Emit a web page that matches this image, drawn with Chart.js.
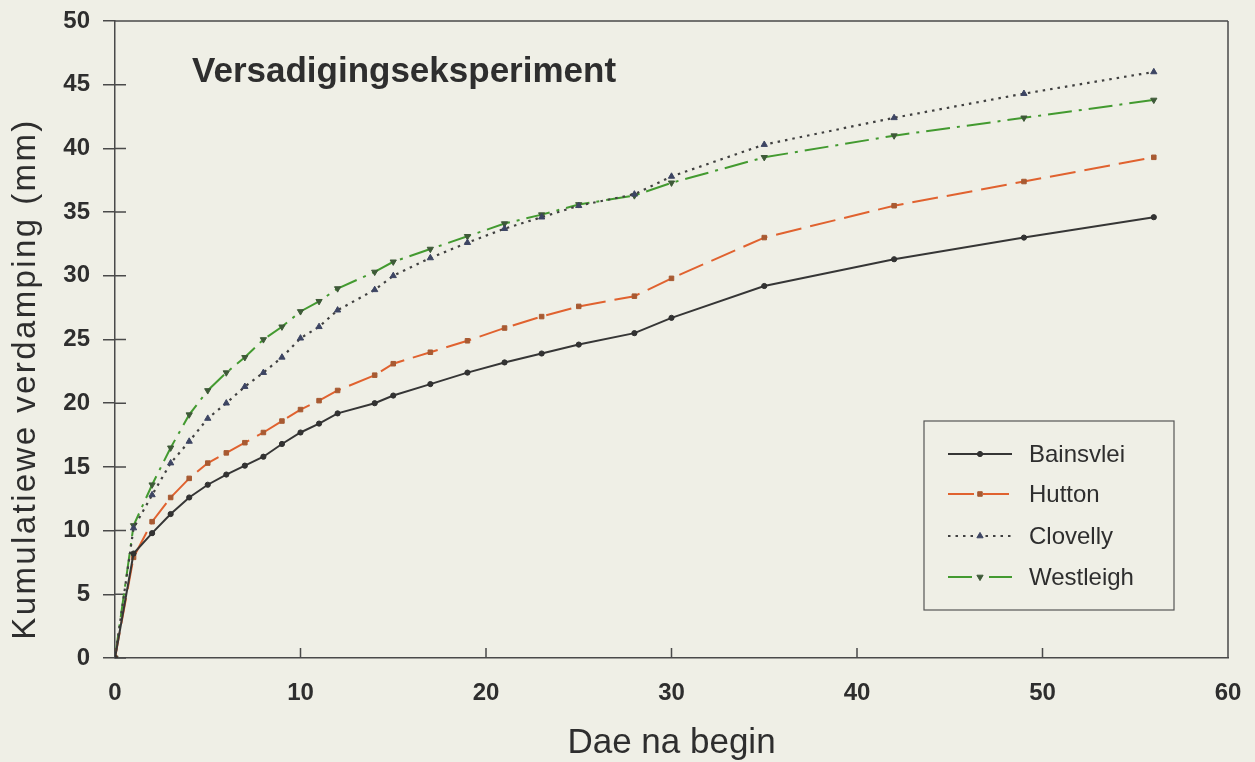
<!DOCTYPE html>
<html>
<head>
<meta charset="utf-8">
<title>Versadigingseksperiment</title>
<script src="https://cdn.jsdelivr.net/npm/chart.js@4.4.1/dist/chart.umd.min.js"></script>
<style>
  html, body { margin: 0; padding: 0; background: #efefe6; }
  #wrap { width: 1255px; height: 762px; }
</style>
</head>
<body>
<div id="wrap"><canvas id="c" width="1255" height="762"></canvas></div>
<script>
// Days since start of the saturation experiment
const days = [0, 1, 2, 3, 4, 5, 6, 7, 8, 9, 10, 11, 12, 14, 15, 17, 19, 21, 23, 25, 28, 30, 35, 42, 49, 56];

// Cumulative evaporation (mm) per soil
const bainsvlei = [0, 8.2, 9.8, 11.3, 12.6, 13.6, 14.4, 15.1, 15.8, 16.8, 17.7, 18.4, 19.2, 20.0, 20.6, 21.5, 22.4, 23.2, 23.9, 24.6, 25.5, 26.7, 29.2, 31.3, 33.0, 34.6];
const hutton    = [0, 7.9, 10.7, 12.6, 14.1, 15.3, 16.1, 16.9, 17.7, 18.6, 19.5, 20.2, 21.0, 22.2, 23.1, 24.0, 24.9, 25.9, 26.8, 27.6, 28.4, 29.8, 33.0, 35.5, 37.4, 39.3];
const clovelly  = [0, 10.2, 12.8, 15.3, 17.0, 18.8, 20.0, 21.3, 22.4, 23.6, 25.1, 26.0, 27.3, 28.9, 30.0, 31.4, 32.6, 33.7, 34.6, 35.5, 36.4, 37.8, 40.3, 42.4, 44.3, 46.0];
const westleigh = [0, 10.4, 13.6, 16.5, 19.1, 21.0, 22.4, 23.6, 25.0, 26.0, 27.2, 28.0, 29.0, 30.3, 31.1, 32.1, 33.1, 34.1, 34.8, 35.6, 36.3, 37.3, 39.3, 41.0, 42.4, 43.8];

const seriesNames = ['Bainsvlei', 'Hutton', 'Clovelly', 'Westleigh'];
const chartTitle = 'Versadigingseksperiment';
const xTitle = 'Dae na begin';
const yTitle = 'Kumulatiewe verdamping (mm)';
const xTicks = [0, 10, 20, 30, 40, 50, 60];
const yTicks = [0, 5, 10, 15, 20, 25, 30, 35, 40, 45, 50];

const BG = '#efefe6';
const AXIS = '#4a4a4a';
const TEXT = '#2e2e2e';
const FONT = '"Liberation Sans", Arial, sans-serif';

function pts(vals) { return days.map((d, i) => ({ x: d, y: vals[i] })); }

const datasets = [
  { label: seriesNames[0], data: pts(bainsvlei), borderColor: '#363636', backgroundColor: '#333333',
    pointBorderColor: '#303030', borderWidth: 2, borderDash: [], pointStyle: 'circle', pointRadius: 2.6, pointRotation: 0 },
  { label: seriesNames[1], data: pts(hutton), borderColor: '#e0622f', backgroundColor: '#a85a32',
    pointBorderColor: '#a85a32', borderWidth: 2, borderDash: [26, 9], pointStyle: 'rect', pointRadius: 3.2, pointRotation: 0 },
  { label: seriesNames[2], data: pts(clovelly), borderColor: '#404040', backgroundColor: '#3d4563',
    pointBorderColor: '#3d4563', borderWidth: 2.2, borderDash: [2.5, 5], pointStyle: 'triangle', pointRadius: 3.6, pointRotation: 0 },
  { label: seriesNames[3], data: pts(westleigh), borderColor: '#439a30', backgroundColor: '#3e5a38',
    pointBorderColor: '#3e5a38', borderWidth: 2, borderDash: [24, 7, 3, 7], pointStyle: 'triangle', pointRadius: 3.6, pointRotation: 180 }
];
datasets.forEach(ds => { ds.tension = 0; ds.fill = false; ds.pointBorderWidth = 1; ds.pointBackgroundColor = ds.backgroundColor; });

// Page background, frame, inward ticks, headings and legend
const decor = {
  id: 'decor',
  beforeDraw(chart) {
    const ctx = chart.ctx;
    ctx.save();
    ctx.fillStyle = BG;
    ctx.fillRect(0, 0, chart.width, chart.height);
    ctx.restore();
  },
  beforeDatasetsDraw(chart) {
    const { ctx, chartArea: a, scales } = chart;
    ctx.save();
    ctx.strokeStyle = AXIS;
    ctx.lineWidth = 1.5;
    ctx.beginPath();
    ctx.moveTo(a.left, a.top); ctx.lineTo(a.right, a.top);
    ctx.moveTo(a.right, a.top); ctx.lineTo(a.right, a.bottom);
    scales.y.ticks.forEach(t => {
      const y = scales.y.getPixelForValue(t.value);
      ctx.moveTo(a.left, y); ctx.lineTo(a.left + 11, y);
    });
    scales.x.ticks.forEach(t => {
      const x = scales.x.getPixelForValue(t.value);
      ctx.moveTo(x, a.bottom); ctx.lineTo(x, a.bottom - 10);
    });
    ctx.stroke();
    ctx.restore();
  },
  afterDraw(chart) {
    const { ctx } = chart;
    ctx.save();
    // vertical axis title
    ctx.save();
    ctx.translate(26, 379);
    ctx.rotate(-Math.PI / 2);
    ctx.fillStyle = TEXT;
    ctx.font = '33px ' + FONT;
    if ('letterSpacing' in ctx) ctx.letterSpacing = '2.4px';
    ctx.textAlign = 'center';
    ctx.textBaseline = 'middle';
    ctx.fillText(yTitle, 0, 0);
    ctx.restore();

    // chart heading inside the plot
    ctx.fillStyle = TEXT;
    ctx.font = 'bold 35px ' + FONT;
    ctx.textBaseline = 'middle';
    ctx.textAlign = 'left';
    ctx.fillText(chartTitle, 192, 72);

    // legend box
    const box = { x: 924, y: 421, w: 250, h: 189 };
    ctx.fillStyle = BG;
    ctx.fillRect(box.x, box.y, box.w, box.h);
    ctx.strokeStyle = '#555';
    ctx.lineWidth = 1.2;
    ctx.strokeRect(box.x, box.y, box.w, box.h);
    const rowY = [454, 494, 536, 577];
    chart.data.datasets.forEach((ds, i) => {
      const y = rowY[i];
      ctx.save();
      ctx.strokeStyle = ds.borderColor;
      ctx.lineWidth = ds.borderWidth;
      ctx.setLineDash(ds.borderDash || []);
      ctx.beginPath();
      ctx.moveTo(948, y); ctx.lineTo(1012, y);
      ctx.stroke();
      ctx.setLineDash([]);
      ctx.fillStyle = ds.pointBackgroundColor;
      ctx.strokeStyle = ds.pointBorderColor;
      ctx.lineWidth = 1;
      Chart.helpers.drawPoint(ctx, { pointStyle: ds.pointStyle, rotation: ds.pointRotation, radius: ds.pointRadius, borderWidth: 1 }, 980, y);
      ctx.restore();
      ctx.fillStyle = TEXT;
      ctx.font = '24px ' + FONT;
      ctx.textBaseline = 'middle';
      ctx.textAlign = 'left';
      ctx.fillText(ds.label, 1029, y + 1);
    });
    ctx.restore();
  }
};

new Chart(document.getElementById('c'), {
  type: 'line',
  data: { datasets },
  options: {
    responsive: false,
    animation: false,
    events: [],
    layout: { padding: { top: 21, right: 27, left: 0, bottom: 0 } },
    plugins: { legend: { display: false }, tooltip: { enabled: false } },
    scales: {
      x: {
        type: 'linear', min: 0, max: 60,
        afterBuildTicks: s => { s.ticks = xTicks.map(v => ({ value: v })); },
        afterFit: s => { s.height = 104; s.paddingLeft = 0; s.paddingRight = 0; },
        grid: { display: true, drawOnChartArea: false, drawTicks: false, color: AXIS },
        border: { display: true, color: AXIS, width: 1.5 },
        ticks: { color: TEXT, padding: 21, font: { family: FONT, size: 24, weight: 'bold' }, maxRotation: 0 },
        title: { display: true, text: xTitle, color: TEXT, padding: { top: 0, bottom: 1 },
                 font: { family: FONT, size: 35, lineHeight: 1 } }
      },
      y: {
        type: 'linear', min: 0, max: 50,
        afterBuildTicks: s => { s.ticks = yTicks.map(v => ({ value: v })); },
        afterFit: s => { s.width = 115; s.paddingTop = 0; s.paddingBottom = 0; },
        grid: { display: true, drawOnChartArea: false, drawTicks: true, tickLength: 12, color: AXIS, lineWidth: 1.5 },
        border: { display: true, color: AXIS, width: 1.5 },
        ticks: { color: TEXT, padding: 13, font: { family: FONT, size: 24, weight: 'bold' } },
        title: { display: false }
      }
    }
  },
  plugins: [decor]
});
</script>
</body>
</html>
